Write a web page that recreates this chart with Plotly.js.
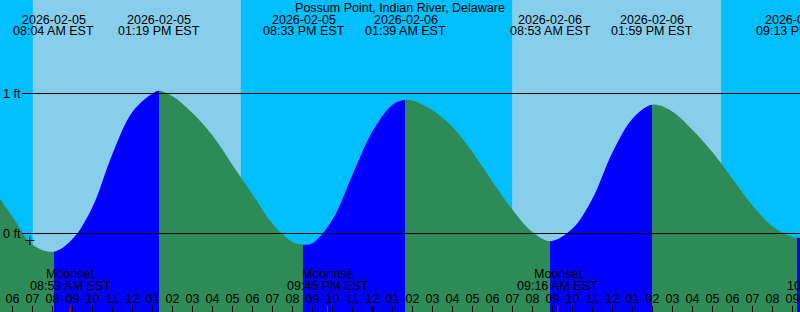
<!DOCTYPE html>
<html><head><meta charset="utf-8">
<script src="https://cdn.plot.ly/plotly-3.0.1.min.js"></script>
<style>html,body{margin:0;padding:0;background:#fff}#chart{width:800px;height:312px}</style>
</head><body><div id="chart"></div>
<script>
const stationName = 'Possum Point, Indian River, Delaware';

const tideTimes = [
  '2026-02-05 05:22','2026-02-05 06:00','2026-02-05 07:00','2026-02-05 08:04','2026-02-05 09:00',
  '2026-02-05 10:00','2026-02-05 11:00','2026-02-05 12:00','2026-02-05 13:00','2026-02-05 13:19',
  '2026-02-05 14:00','2026-02-05 15:00','2026-02-05 16:00','2026-02-05 17:00','2026-02-05 18:00',
  '2026-02-05 19:00','2026-02-05 20:00','2026-02-05 20:33','2026-02-05 21:00','2026-02-05 22:00',
  '2026-02-05 23:00','2026-02-06 00:00','2026-02-06 01:00','2026-02-06 01:39','2026-02-06 02:00',
  '2026-02-06 03:00','2026-02-06 04:00','2026-02-06 05:00','2026-02-06 06:00','2026-02-06 07:00',
  '2026-02-06 08:00','2026-02-06 08:53','2026-02-06 10:00','2026-02-06 11:00','2026-02-06 12:00',
  '2026-02-06 13:00','2026-02-06 13:59','2026-02-06 15:00','2026-02-06 16:00','2026-02-06 17:00',
  '2026-02-06 18:00','2026-02-06 19:00','2026-02-06 20:00','2026-02-06 21:00','2026-02-06 21:13',
  '2026-02-06 21:23'
];
const tideLevels = [
  0.25, 0.12, -0.08, -0.13, -0.04,
  0.19, 0.57, 0.87, 1.00, 1.02,
  0.98, 0.86, 0.70, 0.49, 0.28,
  0.07, -0.06, -0.08, -0.07, 0.10,
  0.42, 0.73, 0.92, 0.955, 0.95,
  0.88, 0.76, 0.58, 0.37, 0.17,
  0.01, -0.055, 0.035, 0.25, 0.58,
  0.82, 0.92, 0.87, 0.74, 0.58,
  0.39, 0.20, 0.05, -0.025, -0.03,
  -0.03
];

const eventTimes = ['2026-02-05 08:04','2026-02-05 13:19','2026-02-05 20:33','2026-02-06 01:39','2026-02-06 08:53','2026-02-06 13:59','2026-02-06 21:13'];
const eventKinds = ['Low','High','Low','High','Low','High','Low'];
const eventDates = ['2026-02-05','2026-02-05','2026-02-05','2026-02-06','2026-02-06','2026-02-06','2026-02-06'];
const eventClock = ['08:04 AM EST','01:19 PM EST','08:33 PM EST','01:39 AM EST','08:53 AM EST','01:59 PM EST','09:13 PM EST'];

const sunriseTimes = ['2026-02-05 07:01','2026-02-06 06:59'];
const sunsetTimes  = ['2026-02-05 17:25','2026-02-06 17:26'];

const moonTimes = ['2026-02-05 08:53','2026-02-05 21:45','2026-02-06 09:16','2026-02-06 22:47'];
const moonNames = ['Moonset','Moonrise','Moonset','Moonrise'];
const moonClock = ['08:53 AM EST','09:45 PM EST','09:16 AM EST','10:47 PM EST'];

const dayStarts = ['2026-02-06 00:00'];
const levelValues = [0, 1];
const levelLabels = ['0 ft', '1 ft'];
const markTimes = ['2026-02-05 06:52'];
const markLevels = [-0.05];

const viewRange = ['2026-02-05 05:22:30', '2026-02-06 21:22:30'];
const levelRange = [-0.5607, 1.668];

const NIGHT = '#00BFFF', DAY = '#87CEEB', RISE = '#0000FF', FALL = '#2E8B57';
const FONT = 'Liberation Sans, Arial, sans-serif';
const FS = 12.5;
const W = 800, H = 312;
const TICK = 6;

function toMs(s) {
  const m = s.match(/(\d+)-(\d+)-(\d+) (\d+):(\d+)(?::(\d+))?/);
  return Date.UTC(+m[1], +m[2]-1, +m[3], +m[4], +m[5], +(m[6]||0));
}
const r0 = toMs(viewRange[0]), r1 = toMs(viewRange[1]);
const pxPerMs = W / (r1 - r0);
function annX(t) {
  const ms = toMs(t);
  if (ms > r1) return {x: viewRange[1], xshift: (ms - r1) * pxPerMs};
  if (ms < r0) return {x: viewRange[0], xshift: (ms - r0) * pxPerMs};
  return {x: t, xshift: 0};
}

const tMin = toMs(tideTimes[0]), tMax = toMs(tideTimes[tideTimes.length-1]);
const scale = [];
let cur = eventKinds[0] === 'Low' ? FALL : RISE;
scale.push([0, cur]);
eventTimes.forEach((t, i) => {
  const f = (toMs(t) - tMin) / (tMax - tMin);
  if (f <= 0 || f >= 1) return;
  scale.push([f, cur]);
  cur = eventKinds[i] === 'Low' ? RISE : FALL;
  scale.push([f, cur]);
});
scale.push([1, cur]);

const traces = [
  { x: [tideTimes[0], tideTimes[tideTimes.length-1]], y: [-1, -1], mode: 'lines',
    line: {width: 0}, hoverinfo: 'skip', showlegend: false },
  { x: tideTimes, y: tideLevels, mode: 'lines', line: {width: 0, shape: 'spline', smoothing: 1},
    fill: 'tonexty', fillcolor: FALL,
    fillgradient: {type: 'horizontal', colorscale: scale, start: tMin, stop: tMax},
    hoverinfo: 'skip', showlegend: false },
  { x: markTimes, y: markLevels, mode: 'markers',
    marker: {symbol: 'cross-thin', size: 6.5, line: {width: 1.2, color: '#000'}},
    hoverinfo: 'skip', showlegend: false }
];

const shapes = [];
sunriseTimes.forEach((s, i) => shapes.push({type: 'rect', xref: 'x', yref: 'paper', x0: s, x1: sunsetTimes[i], y0: 0, y1: 1,
  fillcolor: DAY, line: {width: 0}, layer: 'below'}));
levelValues.forEach(v => shapes.push({type: 'line', xref: 'paper', yref: 'y', x0: 22/W, x1: 1, y0: v, y1: v,
  line: {color: '#000', width: 1}, layer: 'above'}));
dayStarts.forEach(d => shapes.push({type: 'line', xref: 'x', yref: 'paper', x0: d, x1: d, y0: 0, y1: TICK/H,
  line: {color: '#000', width: 3}, layer: 'above'}));
moonTimes.forEach(m => shapes.push({type: 'line', xref: 'x', yref: 'paper', x0: m, x1: m, y0: 0, y1: TICK/H,
  line: {color: '#FF0000', width: 1}, layer: 'above'}));

const annotations = [];
eventTimes.forEach((t, i) => {
  const p = annX(t);
  annotations.push({x: p.x, xshift: p.xshift, xref: 'x', y: 1 - 19.5/H, yref: 'paper', yanchor: 'middle', text: eventDates[i], showarrow: false});
  annotations.push({x: p.x, xshift: p.xshift, xref: 'x', y: 1 - 31.3/H, yref: 'paper', yanchor: 'middle', text: eventClock[i], showarrow: false});
});
moonTimes.forEach((t, i) => {
  const p = annX(t);
  annotations.push({x: p.x, xshift: p.xshift, xref: 'x', y: 1 - 273.7/H, yref: 'paper', yanchor: 'middle', text: moonNames[i], showarrow: false});
  annotations.push({x: p.x, xshift: p.xshift, xref: 'x', y: 1 - 285.5/H, yref: 'paper', yanchor: 'middle', text: moonClock[i], showarrow: false});
});

const layout = {
  width: W, height: H,
  margin: {l: 0, r: 0, t: 0, b: 0, pad: 0},
  paper_bgcolor: NIGHT, plot_bgcolor: NIGHT,
  font: {family: FONT, size: FS, color: '#000'},
  title: {text: stationName, x: 0.5, xanchor: 'center', xref: 'paper', y: 1 - 7.5/H, yanchor: 'middle', yref: 'container',
    font: {family: FONT, size: FS, color: '#000'}, pad: {t: 0, b: 0, l: 0, r: 0}},
  xaxis: {type: 'date', range: viewRange, tick0: '2026-02-05 00:00', dtick: 3600000, tickformat: '%I',
    ticks: 'inside', ticklen: TICK, tickwidth: 1, tickcolor: '#000', ticklabelposition: 'inside',
    ticklabeloverflow: 'allow',
    showgrid: false, zeroline: false, showline: false, fixedrange: true, layer: 'above traces',
    tickfont: {family: FONT, size: FS, color: '#000'}},
  yaxis: {range: levelRange, tickvals: levelValues, ticktext: levelLabels, ticks: '', ticklabelposition: 'inside',
    ticklabeloverflow: 'allow',
    showgrid: false, zeroline: false, showline: false, fixedrange: true, layer: 'above traces',
    tickfont: {family: FONT, size: FS, color: '#000'}},
  shapes: shapes,
  annotations: annotations,
  showlegend: false,
  hovermode: false
};

Plotly.newPlot('chart', traces, layout, {staticPlot: true, displayModeBar: false});
</script>
</body></html>
